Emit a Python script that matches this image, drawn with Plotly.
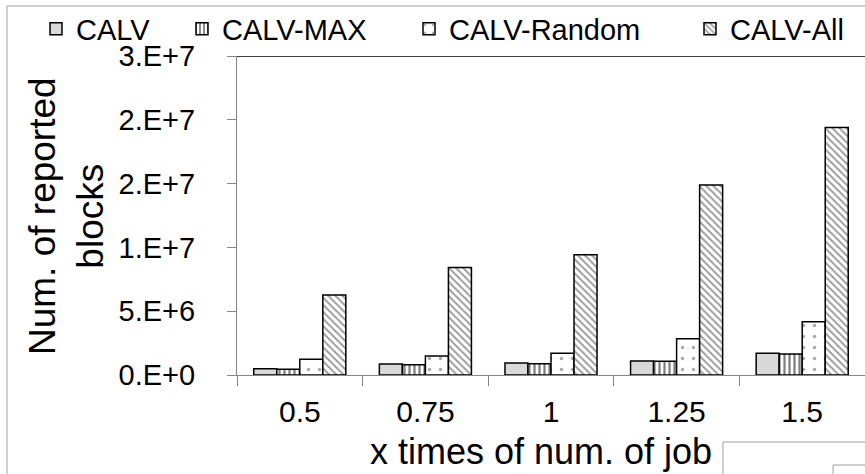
import plotly.graph_objects as go

# Data: number of reported blocks per workload scale
categories = ["0.5", "0.75", "1", "1.25", "1.5"]
calv = [0.49e6, 0.86e6, 0.94e6, 1.10e6, 1.71e6]
calv_max = [0.45e6, 0.81e6, 0.89e6, 1.08e6, 1.65e6]
calv_random = [1.23e6, 1.49e6, 1.70e6, 2.84e6, 4.17e6]
calv_all = [6.27e6, 8.43e6, 9.43e6, 14.9e6, 19.4e6]

y_tickvals = [0, 5e6, 1e7, 1.5e7, 2e7, 2.5e7]
y_ticktext = ["0.E+0", "5.E+6", "1.E+7", "2.E+7", "2.E+7", "3.E+7"]

W, H = 865, 474
ML, MR, MT, MB = 237, 0, 56, 99
PW, PH = W - ML - MR, H - MT - MB


def px_x(p):
    return (p - ML) / PW


def px_y(p):
    return (H - MB - p) / PH


FONT = "Liberation Sans"
OUTLINE = dict(color="black", width=1.5)

series = [
    ("CALV", calv, dict(color="#d9d9d9", line=OUTLINE), "legend", 78),
    ("CALV-MAX", calv_max,
     dict(color="white", line=OUTLINE,
          pattern=dict(shape="|", fgcolor="black", bgcolor="white", size=5, solidity=0.45)),
     "legend2", 224),
    ("CALV-Random", calv_random,
     dict(color="white", line=OUTLINE,
          pattern=dict(shape=".", fgcolor="#555555", bgcolor="white", size=11, solidity=0.08)),
     "legend3", 451),
    ("CALV-All", calv_all,
     dict(color="white", line=OUTLINE,
          pattern=dict(shape="\\", fgcolor="#3a3a3a", bgcolor="white", size=5, solidity=0.4)),
     "legend4", 732),
]

fig = go.Figure()
legends = {}
for name, vals, marker, leg, text_x in series:
    fig.add_trace(go.Bar(x=categories, y=vals, name=name, marker=marker, legend=leg))
    legends[leg] = dict(
        x=px_x(text_x - 42), xanchor="left", xref="paper",
        y=px_y(29), yanchor="middle", yref="paper",
        orientation="h", bgcolor="rgba(0,0,0,0)", borderwidth=0,
        font=dict(family=FONT, size=29, color="black"),
    )

AXIS_GRAY = "#868686"
FRAME_GRAY = "#a0a0a0"

shapes = [
    # chart frame
    dict(type="line", xref="paper", yref="paper", x0=px_x(7), x1=px_x(870), y0=px_y(6), y1=px_y(6),
         line=dict(color=FRAME_GRAY, width=1)),
    dict(type="line", xref="paper", yref="paper", x0=px_x(7), x1=px_x(7), y0=px_y(6), y1=px_y(480),
         line=dict(color=FRAME_GRAY, width=1)),
    # neighbouring frames in the lower right corner
    dict(type="line", xref="paper", yref="paper", x0=px_x(723), x1=px_x(870), y0=px_y(442), y1=px_y(442),
         line=dict(color=FRAME_GRAY, width=1)),
    dict(type="line", xref="paper", yref="paper", x0=px_x(723), x1=px_x(723), y0=px_y(442), y1=px_y(480),
         line=dict(color=FRAME_GRAY, width=1)),
    dict(type="line", xref="paper", yref="paper", x0=px_x(833), x1=px_x(870), y0=px_y(465), y1=px_y(465),
         line=dict(color=FRAME_GRAY, width=1)),
    dict(type="line", xref="paper", yref="paper", x0=px_x(833), x1=px_x(833), y0=px_y(465), y1=px_y(480),
         line=dict(color=FRAME_GRAY, width=1)),
    # top border of the plot area
    dict(type="line", xref="paper", yref="y", x0=0, x1=1, y0=2.5e7, y1=2.5e7,
         line=dict(color="black", width=1.5)),
]

fig.update_layout(
    width=W, height=H,
    margin=dict(l=ML, r=MR, t=MT, b=MB, autoexpand=False),
    paper_bgcolor="white", plot_bgcolor="white",
    barmode="group", bargap=0.267, bargroupgap=0,
    font=dict(family=FONT, color="black"),
    showlegend=True,
    shapes=shapes,
    annotations=[
        dict(text="x times of num. of job", xref="paper", yref="paper",
             x=px_x(541), y=px_y(451), xanchor="center", yanchor="middle",
             showarrow=False, font=dict(family=FONT, size=36, color="black")),
        dict(text="Num. of reported<br>blocks", xref="paper", yref="paper",
             x=px_x(67), y=px_y(216), xanchor="center", yanchor="middle",
             textangle=-90, showarrow=False,
             font=dict(family=FONT, size=37, color="black")),
    ],
    **legends,
)

fig.update_xaxes(
    type="category", showline=True, linecolor=AXIS_GRAY, linewidth=1,
    ticks="outside", tickson="boundaries", ticklen=10, tickcolor=AXIS_GRAY,
    tickfont=dict(family=FONT, size=30, color="black"), ticklabelstandoff=10,
    showgrid=False, zeroline=False,
)
fig.update_yaxes(
    range=[0, 2.5e7], tickvals=y_tickvals, ticktext=y_ticktext,
    showline=True, linecolor=AXIS_GRAY, linewidth=1,
    ticks="outside", ticklen=9, tickcolor=AXIS_GRAY,
    tickfont=dict(family=FONT, size=29, color="black"), ticklabelstandoff=26,
    showgrid=False, zeroline=False,
)

fig.write_html("out.html")
